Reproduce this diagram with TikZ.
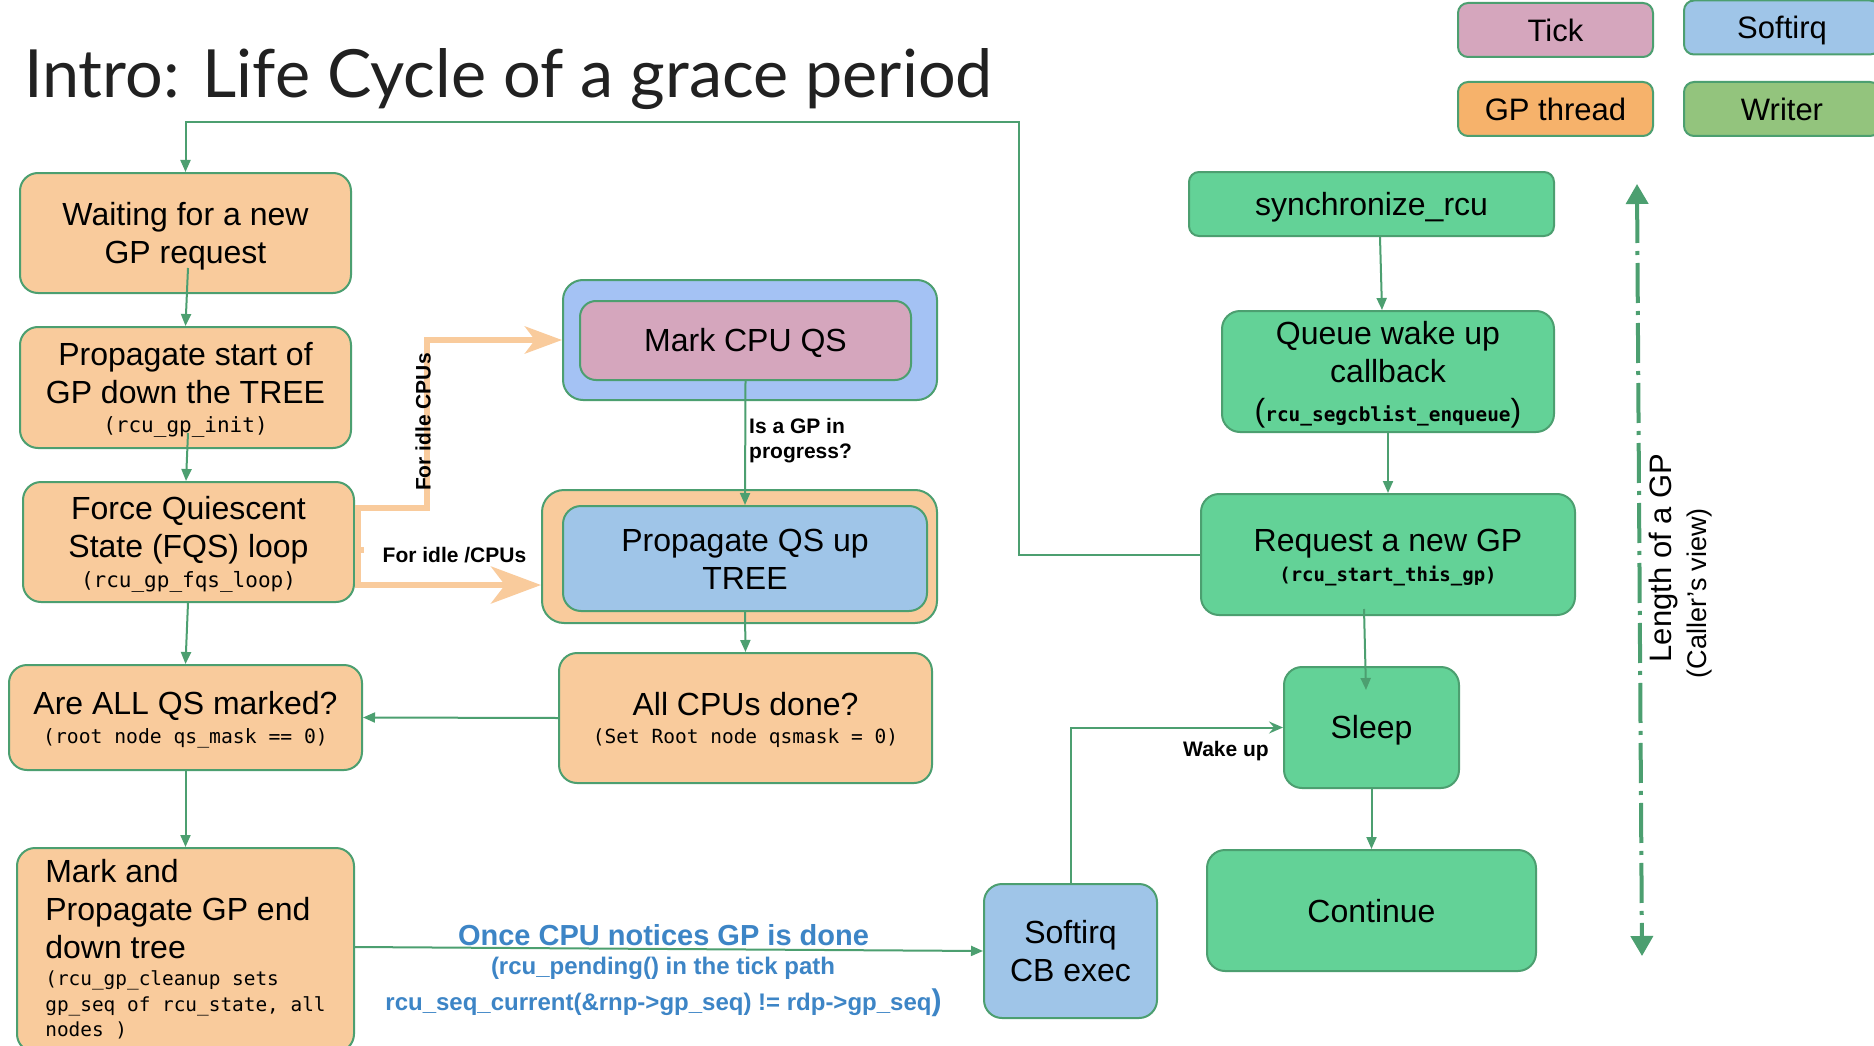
\documentclass[tikz,border=0pt]{standalone}
\usepackage{fontspec}
\setmainfont{Liberation Sans}
\newfontfamily\codefont{DejaVu Sans Mono}
\newfontfamily\headfont{Lato}
\usetikzlibrary{arrows.meta}

\definecolor{linkgreen}{HTML}{4C9F70}
\definecolor{gpbox}{HTML}{F9CB9C}
\definecolor{gpkey}{HTML}{F6B26B}
\definecolor{tickpink}{HTML}{D5A6BD}
\definecolor{softblue}{HTML}{9FC5E8}
\definecolor{markblue}{HTML}{A4C2F4}
\definecolor{writerkey}{HTML}{93C47D}
\definecolor{callgreen}{HTML}{63D297}
\definecolor{idlepath}{HTML}{F9CB9C}
\definecolor{noteblue}{HTML}{3D85C6}
\definecolor{headgray}{HTML}{212121}

% monospaced function names, regular and bold
\newcommand\cdtext[2][21]{{\codefont\fontsize{#1}{#1}\selectfont #2}}
\newcommand\cdbold[2][19]{{\codefont\bfseries\fontsize{#1}{#1}\selectfont #2}}
% fixed line box (29pt above, 6pt below the baseline) so capitals sit centred
\newcommand\lnstrut{\rule[-6pt]{0pt}{35pt}}

\tikzset{
  card/.style={draw=linkgreen, line width=2pt, rounded corners=18pt, align=center,
    inner sep=0pt, font=\fontsize{32}{38}\selectfont},
  gpcard/.style={card, fill=gpbox},
  callcard/.style={card, fill=callgreen},
  keycard/.style={draw=linkgreen, line width=2pt, rounded corners=10pt, inner sep=0pt,
    minimum width=195pt, minimum height=54pt, font=\fontsize{31}{38}\selectfont},
  link/.style={draw=linkgreen, line width=2pt, -{Triangle[length=12pt,width=10pt]}},
  idle/.style={draw=idlepath, line width=6pt},
  tag/.style={font=\bfseries\fontsize{21}{25}\selectfont, inner sep=0pt},
  note/.style={text=noteblue, font=\bfseries\fontsize{24}{28}\selectfont, inner sep=0pt},
  sz/.style 2 args={minimum width=#1pt, minimum height=#2pt},
}

\begin{document}
\begin{tikzpicture}[x=1pt,y=-1pt]
\useasboundingbox (0,0) rectangle (1874,1046);
\fill[white] (0,0) rectangle (1874,1046);

% heading
\node[anchor=base west, text=headgray, font=\headfont\fontsize{66.5}{70}\selectfont, inner sep=0pt]
  (title) at (24,98) {Intro: Life Cycle of a grace period};

% colour key
\node[keycard, fill=tickpink] (ktick) at (1555.5,30) {\lnstrut Tick};
\node[keycard, fill=softblue, minimum width=196pt] (ksoft) at (1782,27.5) {\lnstrut Softirq};
\node[keycard, fill=gpkey] (kgp) at (1555.5,109) {\lnstrut GP thread};
\node[keycard, fill=writerkey, minimum width=196pt] (kwriter) at (1782,109) {\lnstrut Writer};

% GP thread column
\node[gpcard, sz={331}{120}] (wait) at (185.5,233) {\lnstrut Waiting for a new\\GP request\lnstrut};
\node[gpcard, sz={331}{121}] (init) at (185.5,387.5)
  {\lnstrut Propagate start of\\GP down the TREE\\[-9.5pt]\cdtext{(rcu\_gp\_init)}\lnstrut};
\node[gpcard, sz={331}{120}] (fqs) at (188.5,542)
  {\lnstrut Force Quiescent\\State (FQS) loop\\[-8.5pt]\cdtext{(rcu\_gp\_fqs\_loop)}\lnstrut};
\node[gpcard, sz={353}{105}] (allqs) at (185.5,717.5)
  {\lnstrut Are ALL QS marked?\\[-9pt]\cdtext[19.7]{(root node qs\_mask == 0)}\lnstrut};
\node[gpcard, sz={337}{204}, align=left] (gpend) at (185.5,950)
  {\lnstrut Mark and\\Propagate GP end\\down tree\\[-10.7pt]\cdtext[19.4]{(rcu\_gp\_cleanup sets}\\[-12pt]\cdtext[19.4]{gp\_seq of rcu\_state, all}\\[-13pt]\cdtext[19.4]{nodes )}\rule[-9.6pt]{0pt}{20pt}};

% tick / softirq column
\node[card, fill=markblue, sz={374}{120}, rounded corners=20pt] (markbox) at (750,340) {};
\node[card, fill=tickpink, sz={331}{79}, rounded corners=16pt] (markcpu) at (745.5,340.5) {\lnstrut Mark CPU QS};
\node[card, fill=gpbox, sz={395}{133}, rounded corners=22pt] (propbox) at (739.5,556.5) {};
\node[card, fill=softblue, sz={364}{105}, rounded corners=18pt] (propqs) at (745,558.5)
  {\lnstrut Propagate QS up\\TREE\lnstrut};
\node[gpcard, sz={373}{130}] (cpusdone) at (745.5,718)
  {\lnstrut All CPUs done?\\[-10pt]\cdtext[19.5]{(Set Root node qsmask = 0)}\lnstrut};
\node[card, fill=softblue, sz={173}{134}] (softcb) at (1070.5,951) {\lnstrut Softirq\\CB exec\lnstrut};

% writer column
\node[callcard, sz={365}{64}, rounded corners=10pt] (sync) at (1371.5,204) {\lnstrut synchronize\_rcu};
\node[callcard, sz={332}{121}] (queue) at (1388,371.5)
  {\lnstrut Queue wake up\\callback\\[1pt](\cdbold[19.4]{rcu\_segcblist\_enqueue})\lnstrut};
\node[callcard, sz={374}{121}] (request) at (1388,554.5)
  {\lnstrut Request a new GP\\[-8pt]\cdbold[19]{(rcu\_start\_this\_gp)}\lnstrut};
\node[callcard, sz={175}{121}] (sleep) at (1371.5,727.5) {\lnstrut Sleep};
\node[callcard, sz={329}{121}] (cont) at (1371.5,910.5) {\lnstrut Continue};

% connectors
\coordinate (loopcorner) at (1018.5,122);
\draw[link] (request.west) -| (loopcorner) -| (wait.north);
\draw[link] ([xshift=2.5pt,yshift=26pt]wait.south) -- (init.north);
\draw[link] ([xshift=2.5pt,yshift=16pt]init.south) -- ([xshift=-2.5pt]fqs.north);
\draw[link] ([xshift=-0.5pt]fqs.south) -- (allqs.north);
\draw[link] (allqs.south) -- (gpend.north);
\draw[link] (markcpu.south) -- (propqs.north);
\draw[link] (propqs.south) -- (cpusdone.north);
\draw[link] (cpusdone.west) -- (allqs.east);
\draw[link] ([yshift=3pt]gpend.east) -- (softcb.west);
\draw[draw=linkgreen, line width=2pt, -{Stealth[length=14pt,width=12pt,inset=5pt]}]
  (softcb.north) |- (sleep.west);
\draw[link] (sleep.south) -- (cont.north);
\draw[link] ([xshift=8.5pt]sync.south) -- ([xshift=-6pt]queue.north);
\draw[link] (queue.south) -- (request.north);
\draw[link] ([xshift=-24pt,yshift=7pt]request.south) -- ([xshift=-5.5pt,yshift=-24pt]sleep.north);

% idle CPU paths
\coordinate (idleup) at (427,340);
\draw[idle] ([xshift=3pt,yshift=34pt]fqs.east) -- ([xshift=3pt,yshift=-43pt]fqs.east);
\draw[idle] ([xshift=3pt,yshift=-8pt]fqs.east) -- ([xshift=9pt,yshift=-8pt]fqs.east);
\draw[idle, -{Stealth[length=37pt,width=27pt,inset=10pt]}]
  ([yshift=34pt]fqs.east) -| (idleup) -- (markbox.west);
\draw[idle, -{Stealth[length=50pt,width=37pt,inset=14pt]}]
  ([yshift=-43pt]fqs.east) -- ([yshift=-28.5pt]propbox.west);

% connector labels
\node[tag, rotate=90] (idlecpus) at (423,422) {For idle CPUs};
\node[tag] (idleslash) at (454.5,555) {For idle /CPUs};
\node[tag, anchor=west, align=left] (gpq) at (749,440.5) {Is a GP in\\progress?};
\node[tag] (wakeup) at (1226,751) {Wake up};

\node[note, font=\bfseries\fontsize{29}{29}\selectfont] (notehead) at (663.5,935) {Once CPU notices GP is done};
\node[note] (notepend) at (663,968) {(rcu\_pending() in the tick path};
\node[note] (noteseq) at (663.5,1003)
  {rcu\_seq\_current(\&rnp->gp\_seq) != rdp->gp\_seq{\fontsize{30}{30}\selectfont)}};

% caller's view of the grace-period length
\coordinate (spantop) at (1637,184);
\coordinate (spanbot) at (1642,956);
\draw[linkgreen, line width=4pt, dash pattern=on 40pt off 8pt on 4pt off 8pt,
  {Triangle[length=20pt,width=22pt]}-{Triangle[length=20pt,width=22pt]}] (spantop) -- (spanbot);
\node[rotate=90, font=\fontsize{31}{31}\selectfont, inner sep=0pt] (gplen) at (1663,558) {Length of a GP};
\node[rotate=90, font=\fontsize{27}{27}\selectfont, inner sep=0pt] (gpview) at (1699,593) {(Caller’s view)};
\end{tikzpicture}
\end{document}
